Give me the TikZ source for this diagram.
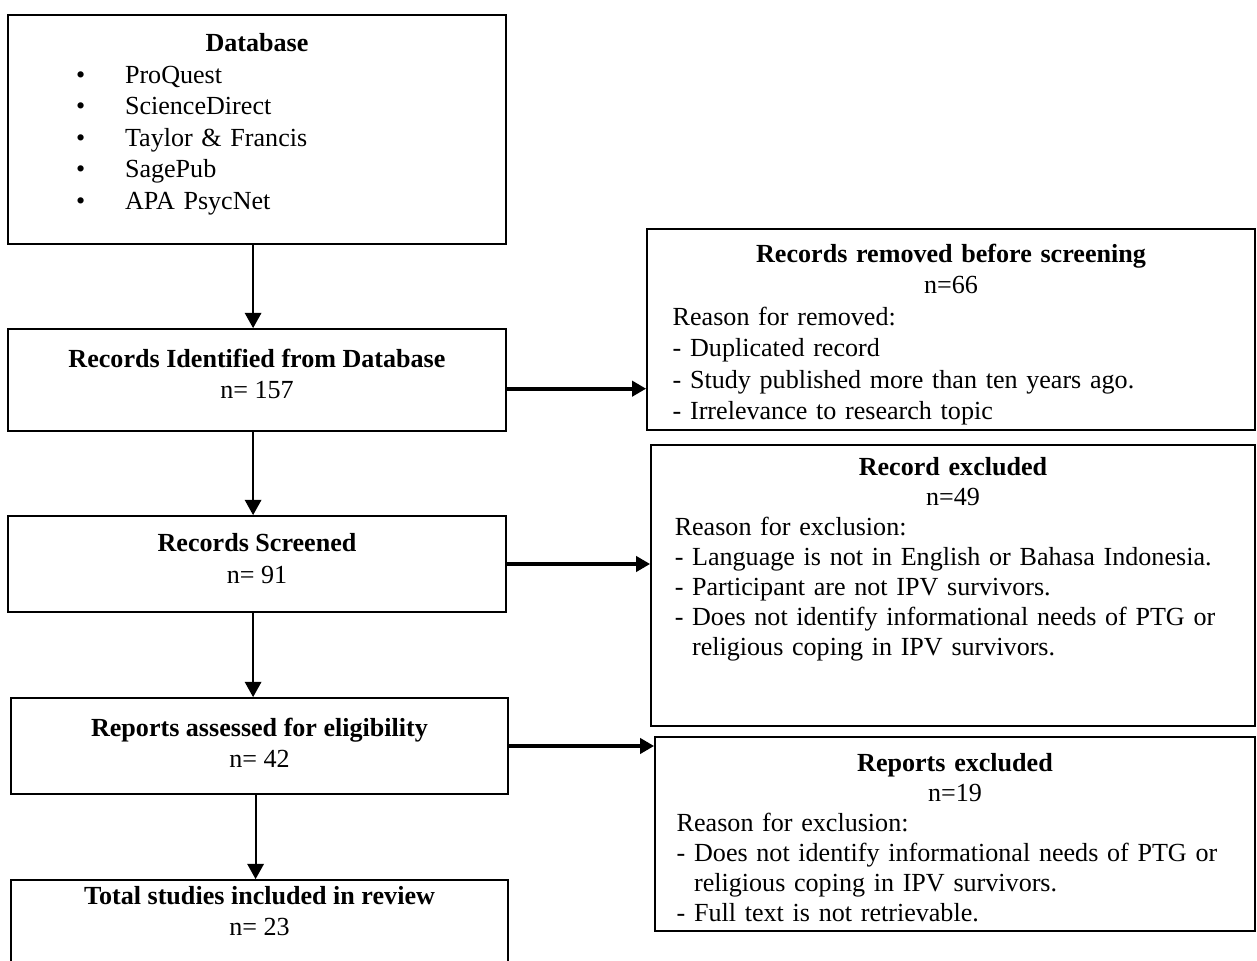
\documentclass[tikz,border=0pt]{standalone}
\usepackage{fontspec}
\setmainfont{Liberation Serif}
\usetikzlibrary{positioning,shapes,arrows,arrows.meta,fit}

\tikzset{
  box/.style={draw, line width=0.8pt, inner sep=0pt},
  txt/.style={inner sep=0pt, align=center, font=\fontsize{12}{14.5}\selectfont},
  lst/.style={inner sep=0pt, font=\fontsize{12}{13.8}\selectfont},
  varrow/.style={line width=1pt, -{Triangle[width=7.5pt,length=7pt]}},
  harrow/.style={line width=2pt, -{Triangle[width=7pt,length=6.5pt]}}
}

\begin{document}
\begin{tikzpicture}[x=0.46pt, y=-0.46pt]
\clip (0,0) rectangle (1257,961);

% left column
\node[box, fit={(8,15)(506,244)}] (db) {};
\node[box, fit={(8,329)(506,431)}] (ri) {};
\node[box, fit={(8,516)(506,612)}] (rs) {};
\node[box, fit={(11,698)(508,794)}] (ra) {};
\node[box, fit={(11,880)(508,1000)}] (ts) {};

% right column
\node[box, fit={(647,229)(1255,430)}] (rm) {};
\node[box, fit={(651,445)(1255,726)}] (rx) {};
\node[box, fit={(655,737)(1255,931)}] (re) {};

\node[lst, text width=229pt, below=8.8pt of db.north, font=\fontsize{12}{14.5}\selectfont] (dbtext) {\centering\textbf{Database}\par
  \raggedright\leftskip=31.3pt
  \makebox[22.5pt][l]{\textbullet}ProQuest\\
  \makebox[22.5pt][l]{\textbullet}ScienceDirect\\
  \makebox[22.5pt][l]{\textbullet}Taylor \& Francis\\
  \makebox[22.5pt][l]{\textbullet}SagePub\\
  \makebox[22.5pt][l]{\textbullet}APA PsycNet\par};
\node[txt, below=9.3pt of ri.north] (ritext) {\textbf{Records Identified from Database}\\ n= 157};
\node[txt, below=8.4pt of rs.north] (rstext) {\textbf{Records Screened}\\ n= 91};
\node[txt, below=9.3pt of ra.north] (ratext) {\textbf{Reports assessed for eligibility}\\ n= 42};
\node[txt, below=3pt of ts.north] (tstext) {\textbf{Total studies included in review}\\ n= 23};

\node[lst, text width=256pt, below=7pt of rm.north, font=\fontsize{12}{14.5}\selectfont] (rmtext) {\centering\textbf{Records removed before screening}\\ n=66\par
  \raggedright Reason for removed:\\
  - Duplicated record\\
  - Study published more than ten years ago.\\
  - Irrelevance to research topic\par};
\node[lst, text width=256pt, below=5.8pt of rx.north] (rxtext) {\centering\textbf{Record excluded}\\ n=49\par
  \raggedright Reason for exclusion:\\
  - Language is not in English or Bahasa Indonesia.\\
  - Participant are not IPV survivors.\\
  - Does not identify informational needs of PTG or\\
  \phantom{- }religious coping in IPV survivors.\par};
\node[lst, text width=256pt, below=7.9pt of re.north] (retext) {\centering\textbf{Reports excluded}\\ n=19\par
  \raggedright Reason for exclusion:\\
  - Does not identify informational needs of PTG or\\
  \phantom{- }religious coping in IPV survivors.\\
  - Full text is not retrievable.\par};

% arrows down
\draw[varrow] ([xshift=-1.8pt]db.south) -- ([xshift=-1.8pt]ri.north);
\draw[varrow] ([xshift=-1.8pt]ri.south) -- ([xshift=-1.8pt]rs.north);
\draw[varrow] ([xshift=-1.8pt]rs.south) -- ([xshift=-1.8pt]rs.south |- ra.north);
\draw[varrow] ([xshift=-1.8pt]ra.south) -- ([xshift=-1.8pt]ts.north);

% arrows right
\draw[harrow] ([yshift=-4pt]ri.east) -- ([yshift=-4pt]ri.east -| rm.west);
\draw[harrow] (rs.east) -- (rs.east -| rx.west);
\draw[harrow] (ra.east) -- (ra.east -| re.west);
\end{tikzpicture}
\end{document}
